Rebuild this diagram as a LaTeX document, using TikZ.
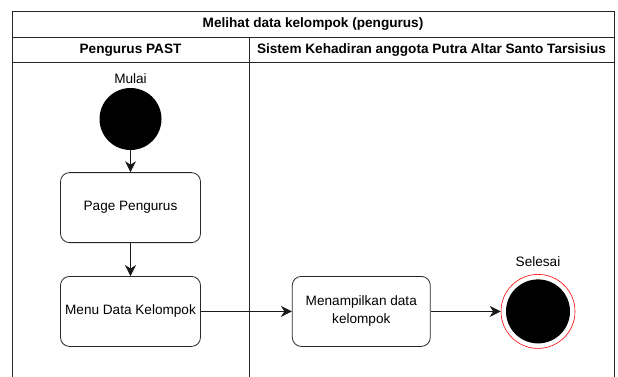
\documentclass[tikz,border=0pt]{standalone}
\usepackage{fontspec}
\setmainfont{Liberation Sans}
\usetikzlibrary{positioning,arrows.meta}
\tikzset{
	judul/.style={rectangle, draw=black!85, line width=0.9pt, font=\bfseries\fontsize{13.6pt}{16pt}\selectfont,
		minimum width=602pt, minimum height=26pt, inner sep=0pt, outer sep=0pt, text centered},
	kolom/.style={rectangle, draw=black!85, line width=0.9pt, font=\bfseries\fontsize{13.6pt}{16pt}\selectfont,
		minimum height=25.5pt, inner sep=0pt, outer sep=0pt, text centered},
	aktivitas/.style={rectangle, rounded corners=9pt, draw=black!85, line width=0.8pt,
		font=\fontsize{13.6pt}{18pt}\selectfont, minimum width=140pt, minimum height=70pt,
		align=center, inner sep=1pt},
	awal/.style={circle, fill=black, minimum size=62pt, inner sep=0pt},
	akhir/.style={circle, draw=red, line width=0.6pt, minimum size=74pt, inner sep=0pt,
		path picture={\fill[black] (path picture bounding box.center) circle (32pt);}},
	panah/.style={-{Stealth[length=11pt, width=11pt, inset=3.5pt]}, draw=black!90, line width=0.8pt},
	garis/.style={draw=black!85, line width=0.9pt}
}
\begin{document}
\begin{tikzpicture}[x=1pt, y=-1pt, every label/.style={font=\fontsize{13.6pt}{16pt}\selectfont}]
	\useasboundingbox (0,0) rectangle (618,376);
	
	% kepala tabel
	\node[judul] (judul) at (313,24) {Melihat data kelompok (pengurus)};
	\node[kolom, minimum width=237pt, anchor=north west] (lajur1) at (judul.south west) {Pengurus PAST};
	\node[kolom, minimum width=365pt, anchor=north west] (lajur2) at (lajur1.north east) {Sistem Kehadiran anggota Putra Altar Santo Tarsisius};
	\draw[garis] (lajur1.south west) -- ++(0,314);
	\draw[garis] (lajur1.south east) -- ++(0,314);
	\draw[garis] (lajur2.south east) -- ++(0,314);
	
	% aktivitas
	\node[awal, label={[label distance=1pt]above:Mulai}] (mulai) at (130.5,119) {};
	\node[aktivitas, below=22pt of mulai] (page) {Page Pengurus};
	\node[aktivitas, below=33pt of page] (menu) {Menu Data Kelompok};
	\node[aktivitas, right=91pt of menu, minimum width=138pt] (tampil) {Menampilkan data\\kelompok};
	\node[akhir, right=70pt of tampil, label={[label distance=4pt]above:Selesai}] (selesai) {};
	
	\draw[panah] (mulai) -- (page);
	\draw[panah] (page) -- (menu);
	\draw[panah] (menu) -- (tampil);
	\draw[panah] (tampil) -- (selesai);
\end{tikzpicture}
\end{document}
